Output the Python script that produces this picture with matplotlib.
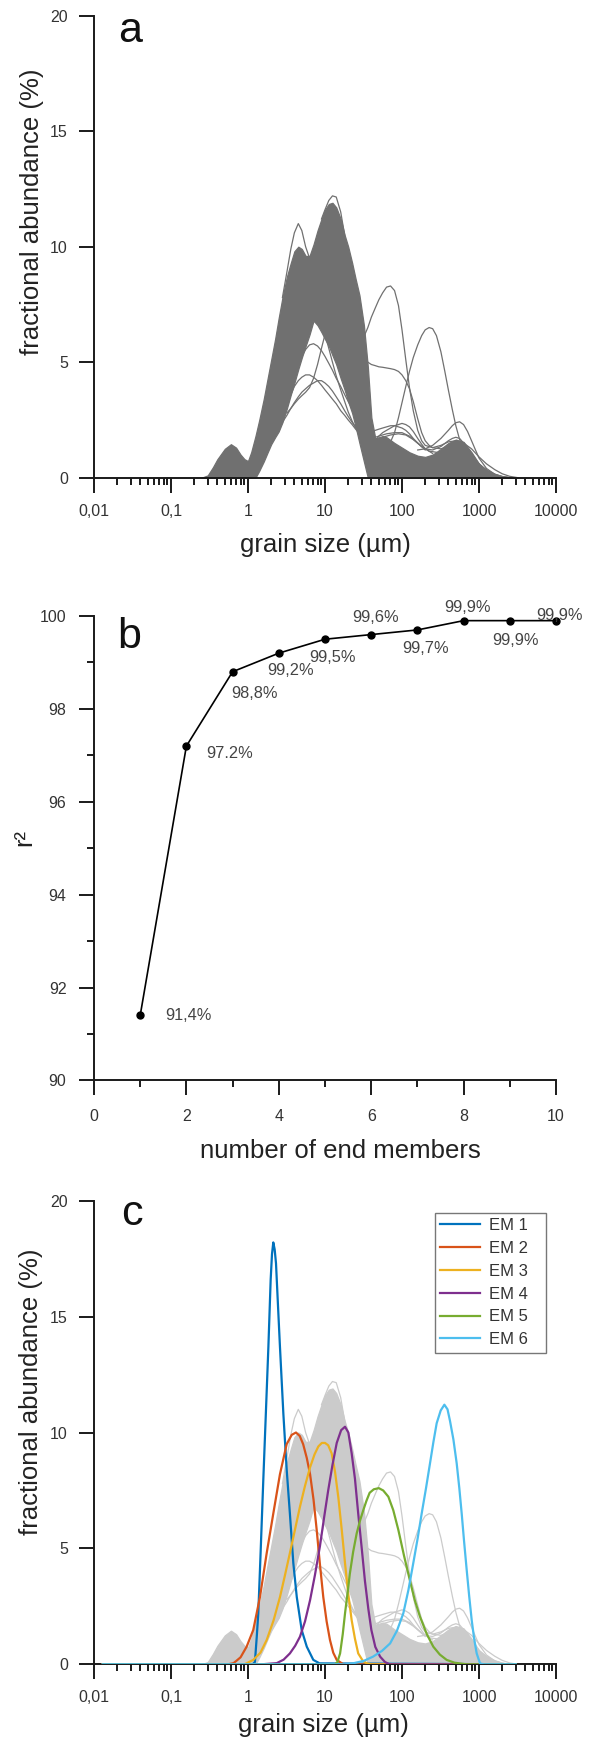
import matplotlib
matplotlib.use("Agg")
import matplotlib.pyplot as plt
from matplotlib.ticker import NullFormatter

plt.rcParams['font.family'] = ['Liberation Sans', 'DejaVu Sans']

# grain size classes (um) for the envelope of the dense sample population
grain_um = [0.25, 0.3, 0.35, 0.4, 0.5, 0.6, 0.7, 0.8, 0.9, 1.0,
            1.1, 1.25, 1.4, 1.6, 1.8, 2.0, 2.25, 2.5, 2.8, 3.2,
            3.6, 4.0, 4.5, 5.0, 5.6, 6.3, 7.1, 8.0, 9.0, 10,
            11.2, 12.5, 14, 16, 18, 20, 22.5, 25, 28, 32,
            36, 40, 45, 50, 56, 63, 80, 100, 125, 160,
            200, 250, 320, 400, 500, 630, 800, 1000, 1250, 1600,
            2000, 2500, 3200]
band_top = [0, 0.1, 0.45, 0.8, 1.25, 1.45, 1.3, 1.0, 0.8, 0.72,
            1.1, 1.8, 2.5, 3.4, 4.3, 5.1, 6.0, 6.9, 7.8, 8.7,
            9.3, 9.8, 10.0, 9.9, 9.6, 9.6, 10.1, 10.7, 11.2, 11.6,
            11.85, 11.9, 11.7, 11.2, 10.5, 10.0, 9.3, 8.6, 7.9, 6.6,
            4.8, 2.6, 1.7, 1.75, 1.8, 1.75, 1.5, 1.3, 1.1, 0.95,
            0.9, 1.0, 1.25, 1.5, 1.65, 1.55, 1.1, 0.6, 0.35, 0.17,
            0.07, 0.02, 0]
band_bottom = [0, 0, 0, 0, 0, 0, 0, 0, 0, 0,
               0, 0, 0.3, 0.7, 1.1, 1.45, 1.75, 2.0, 2.4, 3.0,
               3.6, 4.1, 4.7, 5.2, 5.7, 6.2, 6.8, 6.6, 6.3, 6.0,
               5.7, 5.3, 4.9, 4.3, 3.8, 3.3, 2.8, 2.2, 1.5, 0.7,
               0, 0, 0, 0, 0, 0, 0, 0, 0, 0,
               0, 0, 0, 0, 0, 0, 0, 0, 0, 0,
               0, 0, 0]

# individual samples that stand out of the dense population
s1_um = [2.8, 3.2, 3.6, 4.0, 4.5, 5.0, 5.6, 6.3, 7.1]
s1_pct = [7.8, 8.9, 9.9, 10.6, 11.0, 10.7, 10.0, 9.5, 9.7]

s2_um = [9.0, 10, 11.2, 12.5, 14, 16, 18]
s2_pct = [11.2, 11.6, 12.0, 12.2, 12.15, 11.5, 10.5]

s3_um = [2.5, 2.8, 3.2, 3.6, 4.0, 4.5, 5.0, 5.6, 6.3, 7.1,
         8.0, 9.0, 10, 11.2, 12.5, 14, 16, 18, 20, 22.5,
         25, 28, 32, 36, 40, 45, 50, 56, 63, 71,
         80, 90, 100, 112, 125, 140, 160, 180, 200, 225,
         250, 280, 320, 360, 400, 450, 500, 560, 630, 710,
         800, 1000, 1250, 1600, 2000, 2500]
s3_pct = [2.0, 2.45, 3.1, 3.6, 3.95, 4.2, 4.35, 4.45, 4.45, 4.35,
          4.2, 4.0, 3.8, 3.6, 3.4, 3.2, 2.9, 2.7, 2.5, 2.3,
          2.1, 1.9, 1.7, 1.55, 1.45, 1.35, 1.3, 1.3, 1.35, 1.55,
          1.95, 2.6, 3.25, 3.95, 4.6, 5.2, 5.75, 6.15, 6.4, 6.5,
          6.45, 6.15, 5.45, 4.6, 3.8, 2.95, 2.25, 1.65, 1.3, 1.1,
          0.9, 0.55, 0.3, 0.12, 0.04, 0]

s4_um = [2.8, 3.2, 3.6, 4.0, 4.5, 5.0, 5.6, 6.3, 7.1, 8.0,
         9.0, 10, 11.2, 12.5, 14, 16, 18, 20, 22.5, 25,
         28, 32, 36, 40, 45, 50, 56, 63, 71, 80,
         90, 100, 112, 125, 140, 160, 180, 200, 250, 320,
         400, 450, 500, 560, 630, 710, 800, 1000, 1250, 1600,
         2000]
s4_pct = [2.4, 2.7, 3.0, 3.25, 3.5, 3.7, 3.85, 4.0, 4.1, 4.2,
          4.2, 4.1, 3.95, 3.75, 3.5, 3.2, 2.9, 2.65, 2.4, 2.2,
          2.05, 1.95, 1.95, 2.0, 2.05, 2.1, 2.15, 2.2, 2.25, 2.25,
          2.2, 2.15, 2.05, 1.9, 1.7, 1.5, 1.35, 1.25, 1.2, 1.35,
          1.6, 1.7, 1.75, 1.7, 1.5, 1.25, 1.0, 0.6, 0.3, 0.12,
          0]

s5_um = [4.0, 4.5, 5.0, 5.6, 6.3, 7.1, 8.0, 9.0, 10, 11.2,
         12.5, 14, 16, 18, 20, 22.5, 25, 28, 32]
s5_pct = [4.3, 4.8, 5.25, 5.55, 5.75, 5.8, 5.7, 5.5, 5.25, 4.95,
          4.65, 4.3, 3.95, 3.6, 3.3, 3.0, 2.7, 2.4, 2.0]

s6_um = [3.2, 3.6, 4.0, 4.5, 5.0, 5.6, 6.3, 7.1, 8.0, 9.0, 10, 11.2]
s6_pct = [2.8, 3.0, 3.2, 3.4, 3.55, 3.7, 3.9, 4.3, 4.9, 5.6, 6.2, 6.6]

s7_um = [10, 11.2, 12.5, 14, 16, 18, 20, 22.5, 25, 28,
         32, 36, 40, 45, 50, 56, 63, 80, 100, 125,
         160, 200]
s7_pct = [6.2, 5.6, 5.0, 4.4, 3.8, 3.3, 2.85, 2.45, 2.15, 1.9,
          1.75, 1.7, 1.7, 1.75, 1.8, 1.85, 1.9, 1.95, 1.95, 1.8,
          1.5, 1.2]

s8_um = [40, 45, 50, 56, 63, 71, 80, 90, 100, 112, 125, 140, 160, 180, 200, 250]
s8_pct = [1.4, 1.6, 1.8, 1.95, 2.05, 2.15, 2.25, 2.3, 2.35, 2.3, 2.2, 2.0, 1.7, 1.45, 1.25, 1.05]

s9_um = [28, 32, 36, 40, 45, 50, 56, 63, 71, 80,
         90, 100, 112, 125, 140, 160, 180, 200, 250, 320,
         400, 500, 630, 800, 1000, 1250, 1600, 2000]
s9_pct = [6.0, 6.1, 6.5, 6.95, 7.35, 7.7, 8.0, 8.25, 8.3, 8.1,
          7.45, 6.4, 5.1, 3.9, 2.9, 2.05, 1.6, 1.4, 1.3, 1.4,
          1.55, 1.6, 1.4, 1.0, 0.6, 0.3, 0.12, 0]

s10_um = [25, 28, 32, 36, 40, 45, 50, 56, 63, 71,
          80, 90, 100, 112, 125, 140, 160, 180, 200, 225,
          250, 320, 400, 500, 630, 800, 1000, 1250, 1600, 2000]
s10_pct = [6.2, 5.7, 5.25, 5.0, 4.9, 4.85, 4.8, 4.78, 4.75, 4.72,
           4.68, 4.6, 4.45, 4.2, 3.85, 3.3, 2.55, 1.95, 1.6, 1.4,
           1.3, 1.25, 1.35, 1.45, 1.35, 0.95, 0.55, 0.28, 0.1, 0]

s11_um = [160, 200, 250, 320, 400, 450, 500, 560, 630, 710, 800, 900, 1000, 1250, 1600, 2000, 2500]
s11_pct = [1.2, 1.25, 1.4, 1.7, 2.05, 2.25, 2.38, 2.42, 2.3, 2.0, 1.6, 1.2, 0.85, 0.4, 0.15, 0.05, 0]

s12_um = [45, 56, 71, 90, 112, 140, 180, 225, 280]
s12_pct = [1.5, 1.75, 1.85, 1.9, 1.85, 1.65, 1.35, 1.15, 1.1]

s13_um = [500, 630, 800, 1000, 1250, 1600, 2000, 2500, 3200]
s13_pct = [1.6, 1.5, 1.25, 0.9, 0.6, 0.35, 0.17, 0.06, 0]

# end members
em1_um = [0.013, 1.15, 1.23, 1.3, 1.36, 1.45, 1.58, 1.7, 1.84, 1.97,
          2.05, 2.13, 2.22, 2.31, 2.45, 2.6, 2.88, 3.18, 3.5, 3.88,
          4.3, 4.98, 5.8, 7.05, 8.5, 3000]
em1_pct = [0, 0, 0.1, 1.2, 2.2, 4.6, 7.95, 10.7, 13.7, 16.6,
           17.7, 18.2, 17.9, 17.3, 15.5, 13.7, 10.8, 8.4, 6.5, 4.36,
           2.9, 1.48, 0.76, 0.19, 0.04, 0]

em2_um = [0.013, 0.55, 0.65, 0.8, 0.96, 1.17, 1.43, 1.75, 2.13, 2.6,
          3.18, 3.7, 4.2, 4.7, 5.2, 5.8, 6.4, 7.1, 7.8, 8.6,
          9.5, 10.5, 11.6, 12.8, 14.2, 17.3, 3000]
em2_pct = [0, 0, 0.05, 0.3, 0.76, 1.48, 2.9, 4.8, 6.5, 8.2,
           9.5, 9.9, 10.0, 9.85, 9.5, 8.9, 8.2, 7.1, 5.8, 4.3,
           2.9, 1.85, 1.05, 0.5, 0.19, 0, 0]

em3_um = [0.013, 0.9, 1.17, 1.45, 1.75, 2.15, 2.6, 3.0, 3.5, 4.1,
          4.73, 5.5, 6.4, 7.3, 8.2, 9.1, 10, 11, 12.2, 13.5,
          14.9, 16.5, 18.2, 20.1, 22.2, 24.5, 27, 31, 35, 40, 3000]
em3_pct = [0, 0, 0.19, 0.5, 1.05, 1.9, 2.9, 3.8, 4.8, 5.85,
           6.8, 7.7, 8.5, 9.05, 9.4, 9.55, 9.55, 9.45, 9.1, 8.3,
           7.2, 5.8, 4.36, 3.0, 1.9, 1.1, 0.47, 0.15, 0.04, 0, 0]

em4_um = [0.013, 1.5, 2.36, 2.9, 3.5, 4.1, 4.73, 5.5, 6.4, 7.4,
          8.6, 9.7, 11, 12.5, 14.2, 16.2, 18.2, 20.1, 22.2, 24.5,
          27, 30, 33, 36.5, 40, 45, 52, 60, 69, 3000]
em4_pct = [0, 0, 0.05, 0.2, 0.47, 0.8, 1.19, 1.85, 2.77, 3.85,
           5.1, 6.3, 7.5, 8.6, 9.55, 10.1, 10.25, 10.0, 9.1, 8.0,
           6.5, 5.0, 3.6, 2.4, 1.48, 0.75, 0.33, 0.1, 0, 0]

em5_um = [0.013, 13.5, 14.5, 15.7, 17, 18.2, 19.5, 21, 23.2, 25.8,
          28.5, 31.5, 34.5, 38, 43, 50, 57, 66.5, 77, 89.6,
          106, 127, 147, 171, 210, 255, 310, 380, 480, 690, 3000]
em5_pct = [0, 0, 0.1, 0.47, 1.3, 2.2, 3.0, 3.9, 4.85, 5.65,
           6.2, 6.66, 7.05, 7.4, 7.55, 7.6, 7.5, 7.23, 6.65, 5.8,
           4.7, 3.6, 2.75, 2.06, 1.3, 0.76, 0.42, 0.19, 0.07, 0, 0]

em6_um = [0.013, 18, 23, 32, 42, 55, 70, 86, 104, 121,
          140, 160, 180, 205, 231, 256, 282, 318, 355, 390,
          420, 465, 513, 555, 596, 640, 692, 745, 804, 865,
          933, 1030, 1150, 3000]
em6_pct = [0, 0, 0.04, 0.15, 0.33, 0.58, 0.9, 1.45, 2.2, 3.2,
           4.36, 5.45, 6.5, 7.6, 8.67, 9.6, 10.4, 10.95, 11.2, 11.0,
           10.5, 9.7, 8.67, 7.6, 6.5, 5.3, 4.07, 2.95, 1.9, 1.1,
           0.47, 0.04, 0, 0]

em_labels = ['EM 1', 'EM 2', 'EM 3', 'EM 4', 'EM 5', 'EM 6']
em_colors = ['#0072BD', '#D95319', '#EDB120', '#7E2F8E', '#77AC30', '#4DBEEE']

# explained variance vs number of end members
n_members = [1, 2, 3, 4, 5, 6, 7, 8, 9, 10]
r2 = [91.4, 97.2, 98.8, 99.2, 99.5, 99.6, 99.7, 99.9, 99.9, 99.9]
r2_labels = ['91,4%', '97.2%', '98,8%', '99,2%', '99,5%',
             '99,6%', '99,7%', '99,9%', '99,9%', '99,9%']
label_offsets = [(25, 0), (20, -7), (-1, -22), (-12, -17), (-16, -18),
                 (-19, 17), (-15, -19), (-19, 13), (-18, -20), (-20, 5)]

size_ticks = [0.01, 0.1, 1, 10, 100, 1000, 10000]
size_ticklabels = ['0,01', '0,1', '1', '10', '100', '1000', '10000']

samples = [(s1_um, s1_pct), (s2_um, s2_pct), (s3_um, s3_pct), (s4_um, s4_pct),
           (s5_um, s5_pct), (s6_um, s6_pct), (s7_um, s7_pct), (s8_um, s8_pct),
           (s9_um, s9_pct), (s10_um, s10_pct), (s11_um, s11_pct),
           (s12_um, s12_pct), (s13_um, s13_pct)]
end_members = [(em1_um, em1_pct), (em2_um, em2_pct), (em3_um, em3_pct),
               (em4_um, em4_pct), (em5_um, em5_pct), (em6_um, em6_pct)]

AXCOL = '#1a1a1a'
TXTCOL = '#333333'


def style_axes(ax):
    for s in ['top', 'right']:
        ax.spines[s].set_visible(False)
    for s in ['left', 'bottom']:
        ax.spines[s].set_linewidth(1.4)
        ax.spines[s].set_color(AXCOL)
    ax.tick_params(which='major', direction='out', length=10.8, width=1.4,
                   color=AXCOL, labelcolor=TXTCOL, labelsize=11.5, pad=8)
    ax.tick_params(which='minor', direction='out', length=5.2, width=1.4,
                   color=AXCOL)


def size_axes(ax):
    ax.set_xscale('log')
    ax.set_xlim(0.01, 10000)
    ax.set_ylim(0, 20)
    ax.set_xticks(size_ticks, size_ticklabels)
    ax.xaxis.set_minor_formatter(NullFormatter())
    ax.set_yticks([0, 5, 10, 15, 20])
    style_axes(ax)


def draw_samples(ax, colour, lw):
    ax.fill_between(grain_um, band_bottom, band_top, facecolor=colour,
                    edgecolor=colour, linewidth=lw)
    for um, pct in samples:
        ax.plot(um, pct, color=colour, lw=lw)


fig = plt.figure(figsize=(5.9, 17.41), dpi=100)

# a: all measured distributions
ax_a = fig.add_axes([0.1593, 0.72562, 0.7831, 0.26537])
draw_samples(ax_a, '#707070', 0.9)
size_axes(ax_a)
ax_a.set_xlabel('grain size (µm)', fontsize=18.5, color='#222222', va='center')
ax_a.xaxis.set_label_coords(0.5, -67 / 462)
ax_a.set_ylabel('fractional abundance (%)', fontsize=18.5, color='#222222', va='center')
ax_a.yaxis.set_label_coords(-0.134, 0.575)
ax_a.text(0.053, 0.943, 'a', transform=ax_a.transAxes, fontsize=31,
          va='baseline', ha='left', color='#111111')

# b: goodness of fit
ax_b = fig.add_axes([0.1593, 0.37938, 0.7831, 0.2668])
ax_b.plot(n_members, r2, color='black', lw=1.2, marker='o', ms=5,
          clip_on=False, zorder=3)
for x, y, lab, off in zip(n_members, r2, r2_labels, label_offsets):
    ax_b.annotate(lab, (x, y), xytext=off, textcoords='offset pixels',
                  ha='left', va='center', fontsize=11.8, color='#444444')
ax_b.set_xlim(0, 10)
ax_b.set_ylim(90, 100)
ax_b.set_xticks([0, 2, 4, 6, 8, 10])
ax_b.set_xticks([1, 3, 5, 7, 9], minor=True)
ax_b.set_yticks([90, 92, 94, 96, 98, 100])
ax_b.set_yticks([91, 93, 95, 97, 99], minor=True)
style_axes(ax_b)
ax_b.tick_params(axis='x', which='major', pad=10)
ax_b.tick_params(axis='y', which='major', pad=9)
ax_b.set_xlabel('number of end members', fontsize=18.5, color='#222222', va='center')
ax_b.xaxis.set_label_coords(0.534, -71 / 464.5)
ax_b.set_ylabel('r²', fontsize=18.5, color='#222222', va='center')
ax_b.yaxis.set_label_coords(-0.152, 0.524)
ax_b.text(0.051, 0.9305, 'b', transform=ax_b.transAxes, fontsize=31,
          va='baseline', ha='left', color='#111111')

# c: end members over the measured distributions
ax_c = fig.add_axes([0.1593, 0.04405, 0.7831, 0.26628])
draw_samples(ax_c, '#cbcbcb', 0.9)
for (um, pct), lab, col in zip(end_members, em_labels, em_colors):
    ax_c.plot(um, pct, color=col, lw=1.6, label=lab, zorder=3)
size_axes(ax_c)
ax_c.set_xlabel('grain size (µm)', fontsize=18.5, color='#222222', va='center')
ax_c.xaxis.set_label_coords(0.496, -(1725 - 1664.3) / 463.6)
ax_c.set_ylabel('fractional abundance (%)', fontsize=18.5, color='#222222', va='center')
ax_c.yaxis.set_label_coords(-0.136, 0.588)
ax_c.text(0.058, 0.9476, 'c', transform=ax_c.transAxes, fontsize=31,
          va='baseline', ha='left', color='#111111')
leg = ax_c.legend(loc='upper left', bbox_to_anchor=(0.738, 0.674, 0.240, 0.3),
                  mode='expand', frameon=True, fancybox=False,
                  edgecolor='#555555', fontsize=12, handlelength=2.4,
                  handletextpad=0.5, borderpad=0.32, labelspacing=0.47,
                  borderaxespad=0)
leg.get_frame().set_linewidth(1.0)
for t in leg.get_texts():
    t.set_color(TXTCOL)

fig.savefig('out.png', dpi=100)
